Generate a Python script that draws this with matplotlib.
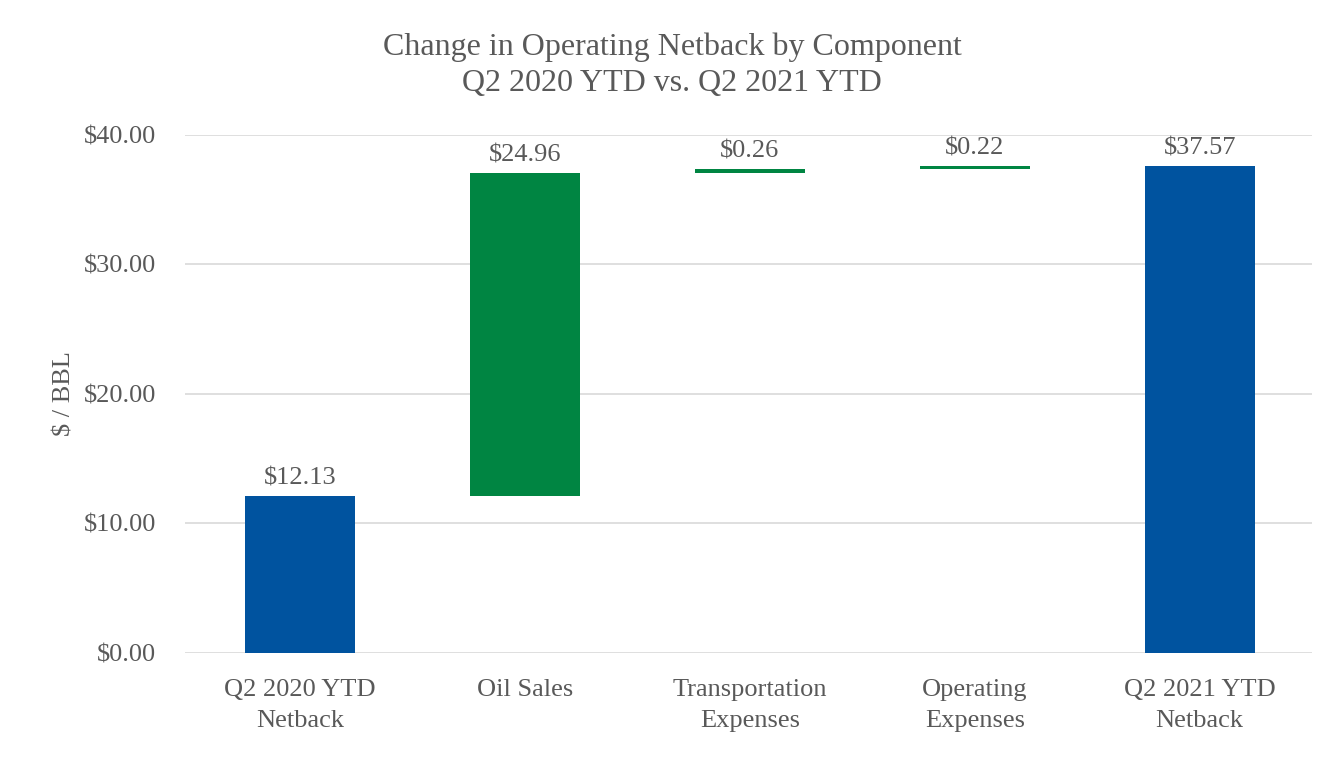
import matplotlib.pyplot as plt

plt.rcParams['font.family'] = ['Liberation Serif', 'DejaVu Serif']

categories = ['Q2 2020 YTD\nNetback', 'Oil Sales', 'Transportation\nExpenses',
              'Operating\nExpenses', 'Q2 2021 YTD\nNetback']
values = [12.13, 24.96, 0.26, 0.22, 37.57]
is_total = [True, False, False, False, True]
labels = ['$12.13', '$24.96', '$0.26', '$0.22', '$37.57']

blue = '#00539f'
green = '#008542'
grey = '#595959'

bottoms = []
running = 0.0
for v, t in zip(values, is_total):
    if t:
        bottoms.append(0.0)
        running = v
    else:
        bottoms.append(running)
        running += v

fig = plt.figure(figsize=(13.44, 7.6), dpi=100)
ax = fig.add_axes([0.1376, 0.1408, 0.8384, 0.6816])

x = list(range(len(categories)))
colors = [blue if t else green for t in is_total]
ax.bar(x, values, bottom=bottoms, width=0.49, color=colors, zorder=3)

for i in x:
    ax.text(i, bottoms[i] + values[i] + 0.9, labels[i], ha='center', va='baseline',
            fontsize=19, color=grey)

ax.set_ylim(0, 40)
ax.set_xlim(-0.511, 4.498)
ax.set_yticks([0, 10, 20, 30, 40])
ax.set_yticklabels(['$0.00', '$10.00', '$20.00', '$30.00', '$40.00'])
ax.set_xticks(x)
ax.set_xticklabels(categories, linespacing=1.5)
ax.tick_params(axis='both', length=0, labelsize=19, labelcolor=grey)
ax.tick_params(axis='x', pad=19)
ax.tick_params(axis='y', pad=21)
ax.grid(axis='y', color='#d9d9d9', linewidth=1.2, zorder=0)
ax.set_axisbelow(True)
for s in ax.spines.values():
    s.set_visible(False)
ax.set_ylabel('$ / BBL', fontsize=19, color=grey, labelpad=6)

fig.suptitle('Change in Operating Netback by Component\nQ2 2020 YTD vs. Q2 2021 YTD',
             fontsize=23, color=grey, y=0.957, linespacing=1.3)

plt.savefig('out.png')
